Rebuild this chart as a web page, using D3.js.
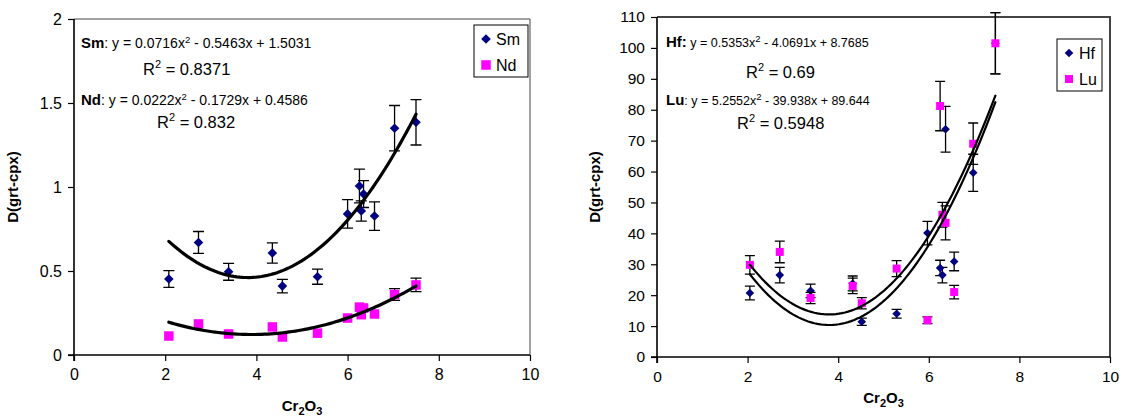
<!DOCTYPE html>
<html>
<head>
<meta charset="utf-8">
<script src="https://cdn.jsdelivr.net/npm/d3@7.9.0/dist/d3.min.js"></script>
<style>
  body { margin: 0; background: #fff; }
  svg text { font-family: "Liberation Sans", Arial, sans-serif; fill: #000; }
</style>
</head>
<body>
<div id="chart"></div>
<script>
// Cr2O3 values per sample (left and right panels were plotted with slightly different x)
const xLeft = [2.08, 2.73, 3.39, 4.35, 4.57, 5.34, 6.0, 6.26, 6.30, 6.35, 6.59, 7.03, 7.5];
const xRight = [2.05, 2.71, 3.39, 4.32, 4.52, 5.29, 5.97, 6.25, 6.30, 6.37, 6.56, 6.98, 7.47];

// left panel: Sm and Nd partition coefficients
const smVals = [0.452, 0.67, 0.495, 0.607, 0.41, 0.466, 0.84, 1.006, 0.857, 0.958, 0.827, 1.35, 1.385];
const smErr = [0.05, 0.065, 0.05, 0.06, 0.04, 0.045, 0.085, 0.1, 0.06, 0.08, 0.085, 0.135, 0.135];
const ndVals = [0.113, 0.185, 0.125, 0.167, 0.107, 0.13, 0.22, 0.285, 0.24, 0.28, 0.244, 0.36, 0.417];
const ndErr = [0, 0, 0, 0, 0, 0, 0, 0, 0, 0, 0, 0.035, 0.04];

// right panel: Hf and Lu
const hfVals = [20.7, 26.5, 21.4, 23.8, 11.4, 14.0, 40.1, 28.8, 26.5, 73.7, 30.9, 59.6, 101.5];
const hfErr = [2.2, 2.5, 2.2, 2.4, 1.2, 1.4, 3.8, 2.5, 2.5, 7.4, 3.0, 6.0, 9.9];
const luVals = [29.8, 34.0, 19.1, 23.0, 17.4, 28.6, 11.9, 81.2, 46.0, 43.4, 21.0, 69.0, 101.5];
const luErr = [3.0, 3.5, 1.8, 2.5, 1.8, 2.6, 1.1, 8.0, 4.0, 5.5, 2.2, 6.7, 9.9];

// quadratic trend coefficients [a, b, c] as drawn
const smFit = [0.0716, -0.5463, 1.5031];
const ndFit = [0.0222, -0.1729, 0.4586];
const hfFit = [5.353, -40.691, 87.685];   // curve plotted at 10x the printed equation
const luFit = [5.2552, -39.938, 89.644];

// tick labels
const xTicks = [0, 2, 4, 6, 8, 10];
const yTicksLeft = [0, 0.5, 1, 1.5, 2];
const yTicksRight = d3.range(0, 111, 10);

const width = 1124, height = 420;
const svg = d3.select("#chart").append("svg")
    .attr("width", width).attr("height", height);

const NAVY = "#000080", MAGENTA = "#ff00ff";

function quad(c) { return x => c[0] * x * x + c[1] * x + c[2]; }

function drawPanel(p) {
    const xScale = d3.scaleLinear().domain([0, 10]).range([p.left, p.right]);
    const yScale = d3.scaleLinear().domain([0, p.yMax]).range([p.bottom, p.top]);
    const g = svg.append("g");

    // frame (top and right)
    g.append("path")
        .attr("d", `M${p.left},${p.top}H${p.right}V${p.bottom}`)
        .attr("fill", "none").attr("stroke", "#444").attr("stroke-width", p.frameW);

    // axes
    const xAxis = d3.axisBottom(xScale).tickValues(xTicks).tickSize(6).tickPadding(8)
        .tickFormat(d => String(d));
    const yAxis = d3.axisLeft(yScale).tickValues(p.yTicks).tickSize(6).tickPadding(6)
        .tickFormat(d => String(d));

    const gx = g.append("g").attr("transform", `translate(0,${p.bottom})`).call(xAxis);
    const gy = g.append("g").attr("transform", `translate(${p.left},0)`).call(yAxis);
    [gx, gy].forEach(a => {
        a.select(".domain").attr("stroke", "#000").attr("stroke-width", 1.6);
        a.selectAll(".tick line").attr("stroke", "#000").attr("stroke-width", 1.2);
        a.selectAll(".tick text").style("font-size", p.tickFont + "px")
            .style("font-family", "'Liberation Sans', Arial, sans-serif").attr("fill", "#000");
    });
    gx.select(".domain").attr("d", `M${p.left},6V0H${p.right}`);
    gy.select(".domain").attr("d", `M-6,${p.bottom}H0V${p.top}`);

    // series: error bars then markers
    p.series.forEach(s => {
        const pts = p.xs.map((x, i) => ({ x, y: s.vals[i], e: s.err[i] }));
        const eb = g.append("g").attr("stroke", "#000").attr("stroke-width", 1.3);
        pts.filter(d => d.e > 0).forEach(d => {
            const cx = xScale(d.x), y0 = yScale(d.y - d.e), y1 = yScale(d.y + d.e);
            eb.append("path").attr("d",
                `M${cx},${y0}V${y1}M${cx - p.cap},${y0}H${cx + p.cap}M${cx - p.cap},${y1}H${cx + p.cap}`);
        });
        const mk = g.append("g").attr("fill", s.color);
        pts.forEach(d => {
            const cx = xScale(d.x), cy = yScale(d.y);
            if (s.shape === "diamond") {
                const r = p.dia;
                mk.append("path").attr("d", `M${cx},${cy - r}L${cx + r},${cy}L${cx},${cy + r}L${cx - r},${cy}Z`);
            } else {
                const h = p.sq / 2;
                mk.append("rect").attr("x", cx - h).attr("y", cy - h).attr("width", p.sq).attr("height", p.sq);
            }
        });
    });

    // trend lines
    const x0 = d3.min(p.xs), x1 = d3.max(p.xs);
    const line = d3.line().x(d => xScale(d[0])).y(d => yScale(d[1])).curve(d3.curveLinear);
    p.fits.forEach(c => {
        const f = quad(c);
        const xsFit = d3.range(x0, x1 + 1e-9, (x1 - x0) / 80);
        g.append("path").datum(xsFit.map(x => [x, f(x)]))
            .attr("fill", "none").attr("stroke", "#000").attr("stroke-width", p.lineW)
            .attr("stroke-linecap", "round").attr("d", line);
    });

    // legend
    const lg = g.append("g");
    lg.append("rect").attr("x", p.legend.x).attr("y", p.legend.y)
        .attr("width", p.legend.w).attr("height", p.legend.h)
        .attr("fill", "#fff").attr("stroke", "#000").attr("stroke-width", 1);
    p.series.forEach((s, i) => {
        const cx = p.legend.x + 12, cy = p.legend.y + 14 + i * 26;
        if (s.shape === "diamond") {
            const r = p.dia;
            lg.append("path").attr("fill", s.color)
                .attr("d", `M${cx},${cy - r}L${cx + r},${cy}L${cx},${cy + r}L${cx - r},${cy}Z`);
        } else {
            lg.append("rect").attr("fill", s.color)
                .attr("x", cx - p.sq / 2).attr("y", cy - p.sq / 2).attr("width", p.sq).attr("height", p.sq);
        }
        lg.append("text").attr("x", cx + 10).attr("y", cy + 6)
            .style("font-size", "16px").text(s.name);
    });

    // equations
    p.eqs.forEach(e => {
        const t = g.append("text").attr("x", e.x).attr("y", e.y).style("font-size", p.eqFont + "px");
        t.append("tspan").style("font-weight", "bold").style("font-size", "15px").text(e.label);
        t.append("tspan").text(e.a);
        t.append("tspan").attr("dy", -5).style("font-size", "9.5px").text("2");
        t.append("tspan").attr("dy", 5).text(e.b);

        const r = g.append("text").attr("x", e.rx).attr("y", e.ry).style("font-size", "16.5px");
        r.append("tspan").text("R");
        r.append("tspan").attr("dy", -7).style("font-size", "11px").text("2");
        r.append("tspan").attr("dy", 7).text(" = " + e.r2);
    });

    // axis titles
    g.append("text")
        .attr("transform", `translate(${p.yTitleX},${(p.top + p.bottom) / 2}) rotate(-90)`)
        .attr("text-anchor", "middle").style("font-size", "15px").style("font-weight", "bold")
        .text("D(grt-cpx)");

    const xt = g.append("text").attr("x", (p.left + p.right) / 2).attr("y", p.xTitleY)
        .attr("text-anchor", "middle").style("font-size", "15px").style("font-weight", "bold");
    xt.append("tspan").text("Cr");
    xt.append("tspan").attr("dy", 4).style("font-size", "11px").text("2");
    xt.append("tspan").attr("dy", -4).text("O");
    xt.append("tspan").attr("dy", 4).style("font-size", "11px").text("3");
}

drawPanel({
    left: 74, right: 530, top: 19, bottom: 355, yMax: 2, yTicks: yTicksLeft,
    xs: xLeft, tickFont: 16, eqFont: 14, frameW: 1, lineW: 3.2, cap: 5.5, dia: 4.8, sq: 9.5,
    series: [
        { name: "Sm", vals: smVals, err: smErr, color: NAVY, shape: "diamond" },
        { name: "Nd", vals: ndVals, err: ndErr, color: MAGENTA, shape: "square" }
    ],
    fits: [smFit, ndFit],
    legend: { x: 474, y: 25, w: 54, h: 52 },
    eqs: [
        { x: 81, y: 48, label: "Sm", a: ": y = 0.0716x", b: " - 0.5463x + 1.5031", rx: 143, ry: 75, r2: "0.8371" },
        { x: 81, y: 105, label: "Nd", a: ": y = 0.0222x", b: " - 0.1729x + 0.4586", rx: 157, ry: 128, r2: "0.832" }
    ],
    yTitleX: 18, xTitleY: 411
});

drawPanel({
    left: 657, right: 1110, top: 17, bottom: 357, yMax: 110, yTicks: yTicksRight,
    xs: xRight, tickFont: 15.5, eqFont: 12.5, frameW: 2, lineW: 2.2, cap: 5, dia: 4.3, sq: 8,
    series: [
        { name: "Hf", vals: hfVals, err: hfErr, color: NAVY, shape: "diamond" },
        { name: "Lu", vals: luVals, err: luErr, color: MAGENTA, shape: "square" }
    ],
    fits: [hfFit, luFit],
    legend: { x: 1057, y: 39, w: 45, h: 52 },
    eqs: [
        { x: 666, y: 47, label: "Hf:", a: " y = 0.5353x", b: " - 4.0691x + 8.7685", rx: 746, ry: 78, r2: "0.69" },
        { x: 666, y: 105, label: "Lu", a: ": y = 5.2552x", b: " - 39.938x + 89.644", rx: 737, ry: 129, r2: "0.5948" }
    ],
    yTitleX: 600, xTitleY: 403
});
</script>
</body>
</html>
